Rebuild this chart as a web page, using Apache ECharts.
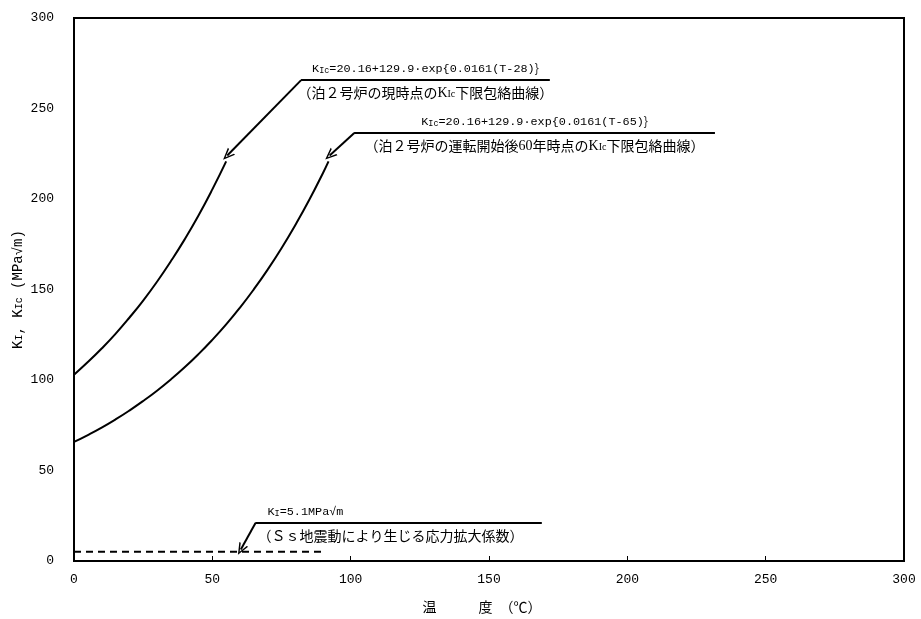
<!DOCTYPE html>
<html><head><meta charset="utf-8">
<script src="https://cdn.jsdelivr.net/npm/echarts@6/dist/echarts.min.js"></script>
<style>html,body{margin:0;padding:0;background:#fff}#c{width:921px;height:619px}</style>
</head><body><div id="c"></div>
<script>
// Temperature (°C) sample points and values
const tempNow = [0,5,10,15,20,25,30,35,40,45,50,55];
const kicNow = [102.9,109.9,117.4,125.5,134.4,143.9,154.3,165.6,177.7,190.9,205.3,220.8];
const temp60 = [0,5,10,15,20,25,30,35,40,45,50,55,60,65,70,75,80,85,90,92];
const kic60 = [65.8,69.6,73.7,78.2,83.1,88.4,94.1,100.3,107.0,114.3,122.2,130.7,140.0,150.1,161.0,172.8,185.6,199.4,214.4,220.8];
const kiTemp = [0,91];
const kiVal = [5.1,5.1];
const xTicks = [0,50,100,150,200,250,300];
const yTicks = [0,50,100,150,200,250,300];
// annotation anchors (data coordinates): [kneeX, y, endX, arrowX, arrowY]
const ann1 = [82.1,265.7,171.9,55.4,224];
const ann2 = [101.3,236.5,231.6,92.4,224];
const ann3 = [65.6,21.0,169.0,60.3,6.3];
const text1a = 'KIc=20.16+129.9·exp{0.0161(T-28)}';
const text1b = '（泊２号炉の現時点のKIc下限包絡曲線）';
const text2a = 'KIc=20.16+129.9·exp{0.0161(T-65)}';
const text2b = '（泊２号炉の運転開始後60年時点のKIc下限包絡曲線）';
const text3a = 'KI=5.1MPa√m';
const text3b = '（Ｓｓ地震動により生じる応力拡大係数）';

const MONO = '"Liberation Mono","DejaVu Sans Mono",monospace';
const CJK = '"Noto Sans CJK JP","Noto Sans",sans-serif';
const chevron = 'path://M0,10 L5,0 L10,10 L8.4,10 L5,3 L1.6,10 Z';
const rich = {
  a:{fontFamily:MONO,fontSize:11.8,color:'#000',lineHeight:16},
  j:{fontFamily:CJK,fontSize:14,color:'#000',lineHeight:16},
  k:{fontFamily:'"Liberation Serif",serif',fontSize:14,color:'#000',lineHeight:16},
  s:{fontFamily:MONO,fontSize:8.5,color:'#000',lineHeight:16,padding:[4,0,0,0]},
  t:{fontFamily:'"Liberation Serif",serif',fontSize:10,color:'#000',lineHeight:16,padding:[3,0,0,0]}
};
// formula lines: ascii in mono
function kfmt(t){
  const toks = t.match(/KIc|KI|[\x20-\x7e·√]+|[^\x20-\x7e·√]+/g);
  let out='';
  toks.forEach(p=>{
    if(p==='KIc') out+='{a|K}{s|Ic}';
    else if(p==='KI') out+='{a|K}{s|I}';
    else if(/^[\x20-\x7e·√]+$/.test(p)) out+='{a|'+p+'}';
    else out+='{j|'+p+'}';
  });
  return out;
}
// Japanese lines: everything in CJK size
function jfmt(t){
  const toks = t.match(/KIc|[0-9]+|[^K0-9]+/g);
  let out='';
  toks.forEach(p=>{
    if(p==='KIc') out+='{k|K}{t|Ic}';
    else if(/^[0-9]+$/.test(p)) out+='{k|'+p+'}';
    else out+='{j|'+p+'}';
  });
  return out;
}
function annLines(a, top, bottom, topPos, topPad, botPad){
  const [kx,y,ex,ax,ay]=a;
  return [
    [{coord:[kx,y],label:{show:true,position:topPos||'insideMiddleTop',formatter:kfmt(top),rich:rich,distance:3,padding:topPad||0}},{coord:[ex,y]}],
    [{coord:[kx,y],label:{show:true,position:'insideMiddleBottom',formatter:jfmt(bottom),rich:rich,distance:5,padding:botPad||0}},{coord:[ex,y]}],
    [{coord:[kx,y],symbol:'none',label:{show:false}},{coord:[ax,ay],symbol:chevron,symbolSize:[10,12]}]
  ];
}
const mlBase = {silent:true,animation:false,symbol:['none','none'],lineStyle:{color:'#000',width:2,type:'solid'}};

const chart = echarts.init(document.getElementById('c'));
chart.setOption({
  animation:false,
  backgroundColor:'#fff',
  grid:{left:74,right:17,top:18,bottom:58,containLabel:false,outerBoundsMode:'none',show:true,borderColor:'#000',borderWidth:2,backgroundColor:'transparent'},
  xAxis:{type:'value',min:0,max:300,interval:50,
    name:'温　　　度　（℃）',nameLocation:'middle',nameGap:39,nameMoveOverlap:false,
    nameTextStyle:{fontFamily:CJK,fontSize:14,color:'#000',padding:[0,14,0,0]},
    axisLine:{show:true,lineStyle:{color:'#000',width:2}},
    axisTick:{show:true,inside:true,length:5,lineStyle:{color:'#000',width:1}},
    axisLabel:{fontFamily:MONO,fontSize:13,color:'#000',margin:12,formatter:v=>xTicks.includes(v)?String(v):''},
    splitLine:{show:false}},
  yAxis:{type:'value',min:0,max:300,interval:50,
    name:'{a|K}{s|I}{a|, K}{s|Ic}{a| (MPa√m)}',nameLocation:'middle',nameGap:48,nameMoveOverlap:false,
    nameTextStyle:{color:'#000',padding:[14,0,0,0],rich:{
      a:{fontFamily:MONO,fontSize:14,color:'#000',lineHeight:16},
      s:{fontFamily:MONO,fontSize:10,color:'#000',lineHeight:16,padding:[3,0,0,0]}}},
    axisLine:{show:true,lineStyle:{color:'#000',width:2}},
    axisTick:{show:false},
    axisLabel:{fontFamily:MONO,fontSize:13,color:'#000',margin:20,formatter:v=>yTicks.includes(v)?String(v):''},
    splitLine:{show:false}},
  series:[
    {type:'line',data:tempNow.map((t,i)=>[t,kicNow[i]]),smooth:true,showSymbol:false,
     lineStyle:{color:'#000',width:2},
     markLine:Object.assign({data:annLines(ann1,text1a,text1b)},mlBase)},
    {type:'line',data:temp60.map((t,i)=>[t,kic60[i]]),smooth:true,showSymbol:false,
     lineStyle:{color:'#000',width:2},
     markLine:Object.assign({data:annLines(ann2,text2a,text2b)},mlBase)},
    {type:'line',data:kiTemp.map((t,i)=>[t,kiVal[i]]),showSymbol:false,
     lineStyle:{color:'#000',width:2,type:[7,5]},
     markLine:Object.assign({data:annLines(ann3,text3a,text3b,'insideStartTop',[0,0,0,9],[0,16,0,0])},mlBase)}
  ]
});
</script></body></html>
